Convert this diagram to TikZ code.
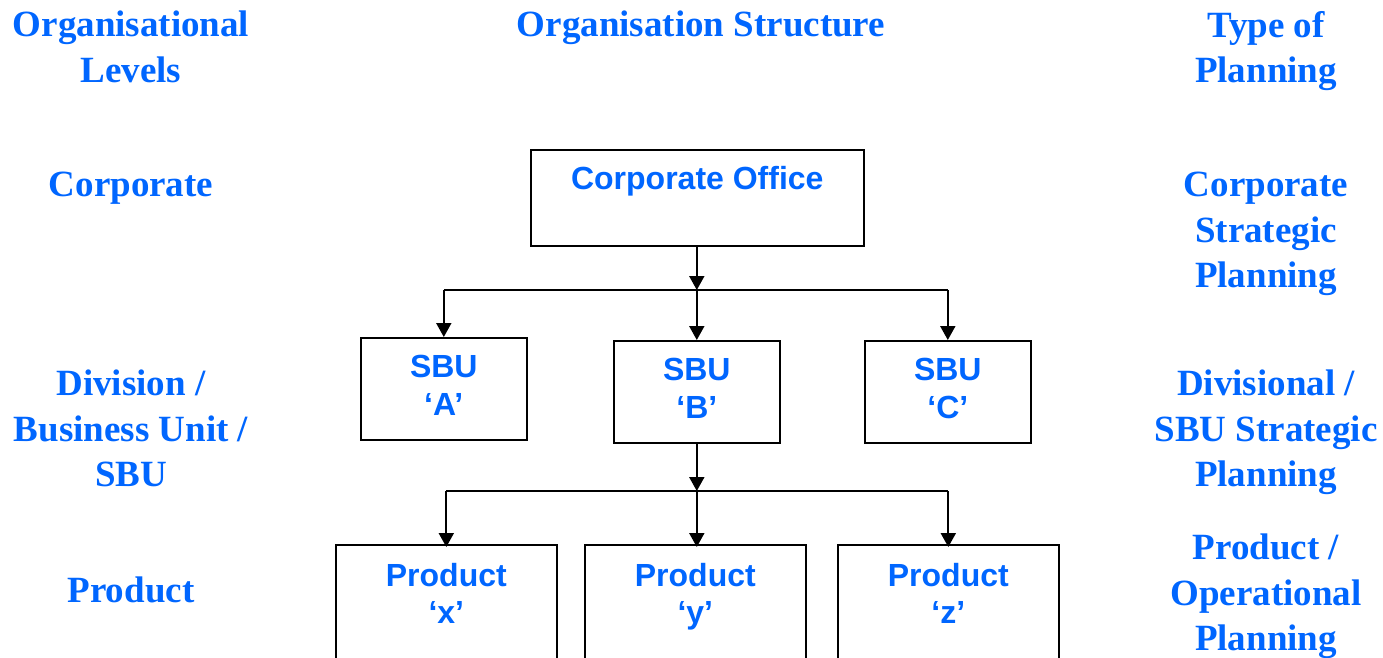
\documentclass[tikz,border=0pt]{standalone}
\usepackage{fontspec}
\setmainfont{Liberation Serif}
\newfontfamily\arialfont{Liberation Sans}
\usetikzlibrary{arrows.meta}
\definecolor{lvlblue}{RGB}{0,102,255}
\begin{document}
\begin{tikzpicture}[x=1pt,y=-1pt,
  head/.style={font=\bfseries\fontsize{37}{45.5}\selectfont, text=lvlblue, align=center, inner sep=0pt, anchor=north},
  orgbox/.style={draw, line width=1.6pt, inner sep=0pt, anchor=north west},
  boxtext/.style={font=\arialfont\bfseries\fontsize{32}{37.5}\selectfont, text=lvlblue, align=center, inner sep=0pt, anchor=north},
  conn/.style={line width=2pt},
  arr/.style={conn, -{Triangle[length=14pt,width=15pt]}}]
\clip (0,0) rectangle (1383,657);
\fill[white] (0,0) rectangle (1383,657);

% column headings
\node[head] (hleft) at (131,11) {Organisational\\Levels};
\node[head] (hmid) at (701,11) {Organisation Structure};
\node[head] (hright) at (1266,11) {Type of\\Planning};

% left column
\node[head] (lcorp) at (131,172) {Corporate};
\node[head] (ldiv) at (131,370) {Division /\\Business Unit /\\SBU};
\node[head] (lprod) at (131,577) {Product};

% right column
\node[head] (rcorp) at (1266,172) {Corporate\\Strategic\\Planning};
\node[head] (rdiv) at (1266,370) {Divisional /\\SBU Strategic\\Planning};
\node[head] (rprod) at (1266,534) {Product /\\Operational\\Planning};

% boxes
\node[orgbox, minimum width=333pt, minimum height=96pt] (co) at (530,149) {};
\node[orgbox, minimum width=166pt, minimum height=102pt] (sa) at (360,337) {};
\node[orgbox, minimum width=166pt, minimum height=102pt] (sb) at (613,340) {};
\node[orgbox, minimum width=166pt, minimum height=102pt] (sc) at (864,340) {};
\node[orgbox, minimum width=221pt, minimum height=140pt] (px) at (335,544) {};
\node[orgbox, minimum width=221pt, minimum height=140pt] (py) at (584,544) {};
\node[orgbox, minimum width=221pt, minimum height=140pt] (pz) at (837,544) {};

% box texts
\node[boxtext] (tco) at (co.north |- 0,166) {Corporate Office};
\node[boxtext] (tsa) at (sa.north |- 0,355) {SBU\\‘A’};
\node[boxtext] (tsb) at (sb.north |- 0,358) {SBU\\‘B’};
\node[boxtext] (tsc) at (sc.north |- 0,358) {SBU\\‘C’};
\node[boxtext] (tpx) at (px.north |- 0,563) {Product\\‘x’};
\node[boxtext] (tpy) at (py.north |- 0,563) {Product\\‘y’};
\node[boxtext] (tpz) at (pz.north |- 0,563) {Product\\‘z’};

% connectors level 1
\coordinate (j1) at (sb.north |- 0,290);
\coordinate (j1a) at (sa.north |- j1);
\coordinate (j1c) at (sc.north |- j1);
\draw[arr] (co.south -| j1) -- (j1);
\draw[conn] (j1a) -- (j1c);
\draw[arr] (j1a) -- (sa.north);
\draw[arr] (j1) -- (sb.north);
\draw[arr] (j1c) -- (sc.north);

% connectors level 2
\coordinate (j2) at (sb.south |- 0,491);
\coordinate (j2x) at (px.north |- j2);
\coordinate (j2z) at (pz.north |- j2);
\draw[arr] (sb.south) -- (j2);
\draw[conn] (j2x) -- (j2z);
\draw[arr] (j2x) -- ([yshift=-3pt]px.north);
\draw[arr] (j2) -- ([yshift=-3pt]py.north -| j2);
\draw[arr] (j2z) -- ([yshift=-3pt]pz.north);
\end{tikzpicture}
\end{document}
